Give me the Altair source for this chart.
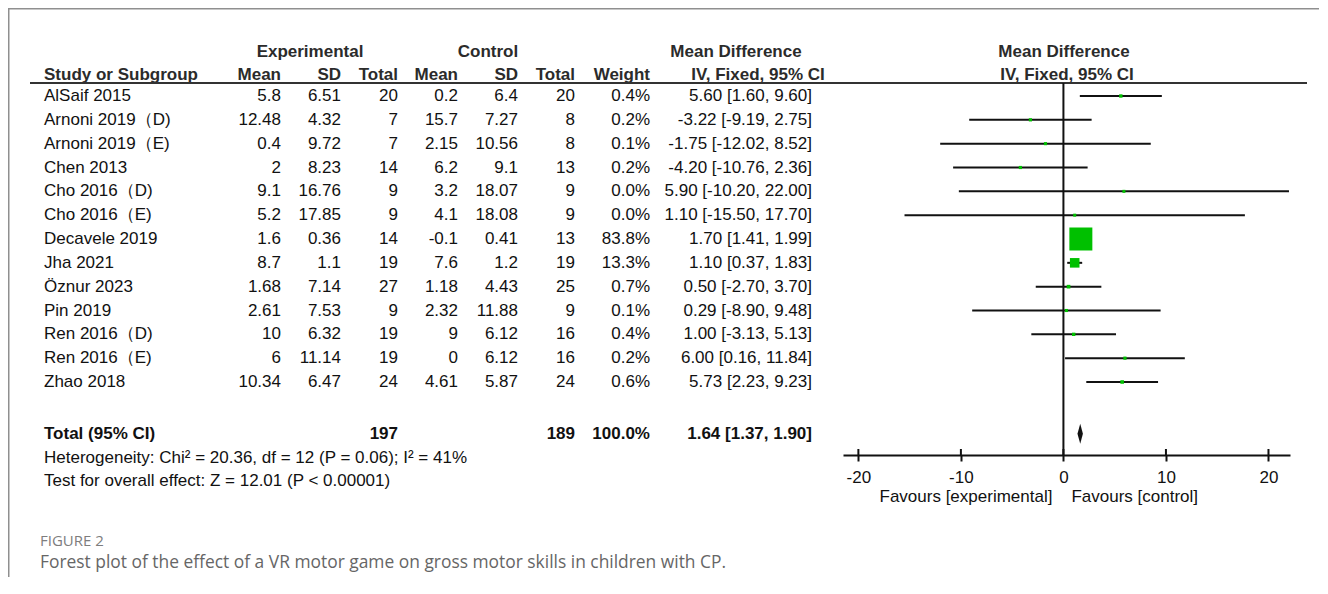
import altair as alt
import pandas as pd

# ---------------- data ----------------
studies = ["AlSaif 2015", "Arnoni 2019（D)", "Arnoni 2019（E)", "Chen 2013", "Cho 2016（D)",
           "Cho 2016（E)", "Decavele 2019", "Jha 2021", "Öznur 2023", "Pin 2019",
           "Ren 2016（D)", "Ren 2016（E)", "Zhao 2018"]
exp_mean = [5.8, 12.48, 0.4, 2, 9.1, 5.2, 1.6, 8.7, 1.68, 2.61, 10, 6, 10.34]
exp_sd = [6.51, 4.32, 9.72, 8.23, 16.76, 17.85, 0.36, 1.1, 7.14, 7.53, 6.32, 11.14, 6.47]
exp_n = [20, 7, 7, 14, 9, 9, 14, 19, 27, 9, 19, 19, 24]
ctrl_mean = [0.2, 15.7, 2.15, 6.2, 3.2, 4.1, -0.1, 7.6, 1.18, 2.32, 9, 0, 4.61]
ctrl_sd = [6.4, 7.27, 10.56, 9.1, 18.07, 18.08, 0.41, 1.2, 4.43, 11.88, 6.12, 6.12, 5.87]
ctrl_n = [20, 8, 8, 13, 9, 9, 13, 19, 25, 9, 16, 16, 24]
weights = [0.4, 0.2, 0.1, 0.2, 0.0, 0.0, 83.8, 13.3, 0.7, 0.1, 0.4, 0.2, 0.6]
md = [5.60, -3.22, -1.75, -4.20, 5.90, 1.10, 1.70, 1.10, 0.50, 0.29, 1.00, 6.00, 5.73]
ci_lo = [1.60, -9.19, -12.02, -10.76, -10.20, -15.50, 1.41, 0.37, -2.70, -8.90, -3.13, 0.16, 2.23]
ci_hi = [9.60, 2.75, 8.52, 2.36, 22.00, 17.70, 1.99, 1.83, 3.70, 9.48, 5.13, 11.84, 9.23]

total_label = "Total (95% CI)"
total_exp_n = 197
total_ctrl_n = 189
total_weight = 100.0
total_md, total_lo, total_hi = 1.64, 1.37, 1.90
heterogeneity = "Heterogeneity: Chi² = 20.36, df = 12 (P = 0.06); I² = 41%"
overall = "Test for overall effect: Z = 12.01 (P < 0.00001)"
tick_values = [-20, -10, 0, 10, 20]
favours_left = "Favours [experimental]"
favours_right = "Favours [control]"
fig_label = "FIGURE 2"
caption = "Forest plot of the effect of a VR motor game on gross motor skills in children with CP."

# ---------------- layout / style ----------------
FONT = "Liberation Sans"
FS = 17
TXT = "#111111"
HDR = "#2b2b2b"
W, H = 1311, 447
TOTAL_ROW, HET_ROW, TEST_ROW = 14.17, 15.17, 16.15
DIAMOND_HALF = 0.42

ysc = alt.Scale(domain=[0, 12], range=[88, 374], nice=False, zero=False)
xsc = alt.Scale(domain=[-21.5, 22.1], range=[835, 1282], nice=False, zero=False)
ax = alt.Axis(values=tick_values, title=None, grid=False, domainColor=TXT, domainWidth=2,
              tickColor=TXT, tickWidth=2, tickSize=6, labelFont=FONT, labelFontSize=FS,
              labelColor=TXT, labelPadding=8, labelExpr="'' + datum.value", labelFlush=False)


def g(v):
    return f"{v:g}"


df = pd.DataFrame({
    "row": list(range(len(studies))),
    "study": studies,
    "em": [g(v) for v in exp_mean],
    "esd": [g(v) for v in exp_sd],
    "en": [str(v) for v in exp_n],
    "cm": [g(v) for v in ctrl_mean],
    "csd": [g(v) for v in ctrl_sd],
    "cn": [str(v) for v in ctrl_n],
    "w": weights,
    "wt": [f"{w:.1f}%" for w in weights],
    "md": md, "lo": ci_lo, "hi": ci_hi,
    "ci": [f"{m:.2f} [{l:.2f}, {h:.2f}]" for m, l, h in zip(md, ci_lo, ci_hi)],
})

tot = pd.DataFrame({
    "row": [TOTAL_ROW],
    "label": [total_label],
    "en": [str(total_exp_n)],
    "cn": [str(total_ctrl_n)],
    "wt": [f"{total_weight:.1f}%"],
    "ci": [f"{total_md:.2f} [{total_lo:.2f}, {total_hi:.2f}]"],
})

stats = pd.DataFrame({"row": [HET_ROW, TEST_ROW], "label": [heterogeneity, overall]})

diamond = pd.DataFrame({
    "x": [total_lo, total_md, total_hi],
    "y": [TOTAL_ROW, TOTAL_ROW - DIAMOND_HALF, TOTAL_ROW],
    "y2": [TOTAL_ROW, TOTAL_ROW + DIAMOND_HALF, TOTAL_ROW],
})

ticks_df = pd.DataFrame({"t": tick_values})
one = pd.DataFrame({"a": [0]})

layers = []

# frame
layers.append(alt.Chart(one).mark_rule(color="#8f8f8f", strokeWidth=2).encode(
    x=alt.value(0), x2=alt.value(W), y=alt.value(0.5)))
layers.append(alt.Chart(one).mark_rule(color="#8f8f8f", strokeWidth=2).encode(
    x=alt.value(0.5), y=alt.value(0), y2=alt.value(570)))


def column(data, field, xpx, align="right", bold=False):
    return alt.Chart(data).mark_text(
        align=align, baseline="middle", font=FONT, fontSize=FS, color=TXT,
        fontWeight="bold" if bold else "normal").encode(
        x=alt.value(xpx), y=alt.Y("row:Q", scale=ysc, axis=None), text=f"{field}:N")


# study rows
layers.append(column(df, "study", 36, align="left"))
for field, xpx in [("em", 273), ("esd", 333), ("en", 390), ("cm", 450), ("csd", 510),
                   ("cn", 567), ("wt", 642), ("ci", 804)]:
    layers.append(column(df, field, xpx))

# total row
layers.append(column(tot, "label", 36, align="left", bold=True))
for field, xpx in [("en", 390), ("cn", 567), ("wt", 642), ("ci", 804)]:
    layers.append(column(tot, field, xpx, bold=True))

# heterogeneity / overall effect
layers.append(column(stats, "label", 36, align="left"))

# headers
headers = [
    ("Experimental", 302, 44, "center"), ("Control", 480, 44, "center"),
    ("Mean Difference", 728, 44, "center"), ("Mean Difference", 1056, 44, "center"),
    ("Study or Subgroup", 36, 67, "left"), ("Mean", 273, 67, "right"), ("SD", 333, 67, "right"),
    ("Total", 390, 67, "right"), ("Mean", 450, 67, "right"), ("SD", 510, 67, "right"),
    ("Total", 567, 67, "right"), ("Weight", 642, 67, "right"),
    ("IV, Fixed, 95% CI", 750, 67, "center"), ("IV, Fixed, 95% CI", 1059, 67, "center"),
]
for label, xpx, ypx, al in headers:
    layers.append(alt.Chart(pd.DataFrame({"label": [label]})).mark_text(
        align=al, baseline="middle", font=FONT, fontSize=FS, fontWeight="bold", color=HDR).encode(
        x=alt.value(xpx), y=alt.value(ypx), text="label:N"))

# header underline
layers.append(alt.Chart(one).mark_rule(color="#333333", strokeWidth=2).encode(
    x=alt.value(22), x2=alt.value(1299), y=alt.value(75)))

# zero line
layers.append(alt.Chart(one).mark_rule(color=TXT, strokeWidth=2).encode(
    x=alt.XDatum(0, type="quantitative", scale=xsc, axis=ax), y=alt.value(75), y2=alt.value(H)))

# confidence intervals
layers.append(alt.Chart(df).mark_rule(color=TXT, strokeWidth=2).encode(
    x=alt.X("lo:Q", scale=xsc, axis=ax), x2="hi:Q",
    y=alt.Y("row:Q", scale=ysc, axis=None)))

# squares
layers.append(alt.Chart(df).mark_square(filled=True, color="#00c000", opacity=1).encode(
    x=alt.X("md:Q", scale=xsc, axis=ax),
    y=alt.Y("row:Q", scale=ysc, axis=None),
    size=alt.Size("w:Q", scale=alt.Scale(domain=[0, 83.8], range=[9, 529]), legend=None)))

# diamond
layers.append(alt.Chart(diamond).mark_area(color=TXT, opacity=1).encode(
    x=alt.X("x:Q", scale=xsc, axis=ax),
    y=alt.Y("y:Q", scale=ysc, axis=None), y2="y2:Q"))

# inner half of crossing ticks
layers.append(alt.Chart(ticks_df).mark_rule(color=TXT, strokeWidth=2).encode(
    x=alt.X("t:Q", scale=xsc, axis=ax), y=alt.value(H - 6), y2=alt.value(H)))

# favours labels
layers.append(alt.Chart(pd.DataFrame({"label": [favours_left]})).mark_text(
    align="right", baseline="middle", font=FONT, fontSize=FS, color=TXT, dx=-11).encode(
    x=alt.XDatum(0, type="quantitative", scale=xsc, axis=ax), y=alt.value(489), text="label:N"))
layers.append(alt.Chart(pd.DataFrame({"label": [favours_right]})).mark_text(
    align="left", baseline="middle", font=FONT, fontSize=FS, color=TXT, dx=8).encode(
    x=alt.XDatum(0, type="quantitative", scale=xsc, axis=ax), y=alt.value(489), text="label:N"))

# caption
layers.append(alt.Chart(pd.DataFrame({"label": [fig_label]})).mark_text(
    align="left", baseline="middle", font="Open Sans", fontSize=15, color="#7d7d7d").encode(
    x=alt.value(32), y=alt.value(533), text="label:N"))
layers.append(alt.Chart(pd.DataFrame({"label": [caption]})).mark_text(
    align="left", baseline="middle", font="Open Sans", fontSize=17.4, color="#666666").encode(
    x=alt.value(32), y=alt.value(555), text="label:N"))

chart = alt.layer(*layers).properties(
    width=W, height=H,
    padding={"left": 0, "top": 0, "right": 0, "bottom": 122},
    autosize=alt.AutoSizeParams(type="none"),
    background="white",
).configure_view(stroke=None)

chart.save("out.html", embed_options={"renderer": "svg", "actions": False})
